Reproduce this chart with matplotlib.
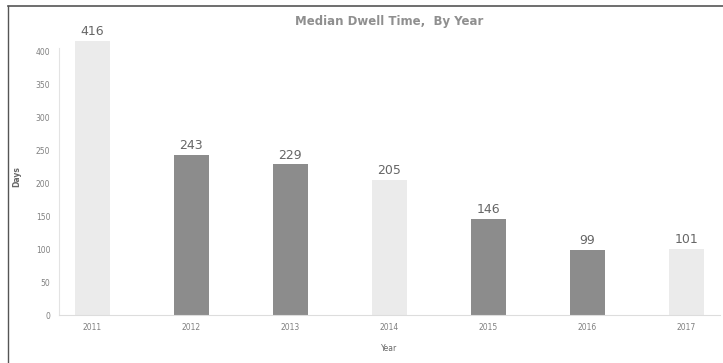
import matplotlib.pyplot as plt
from matplotlib.lines import Line2D

years = ["2011", "2012", "2013", "2014", "2015", "2016", "2017"]
days = [416, 243, 229, 205, 146, 99, 101]
colors = ["#ebebeb", "#8c8c8c", "#8c8c8c", "#ebebeb", "#8c8c8c", "#8c8c8c", "#ebebeb"]

fig = plt.figure(figsize=(7.23, 3.63), dpi=100)
ax = fig.add_axes([0.081, 0.132, 0.915, 0.762])

x = range(len(years))
bars = ax.bar(x, days, width=0.35, color=colors)
for xi, v in zip(x, days):
    ax.text(xi, v + 4, str(v), ha="center", va="bottom", fontsize=9, color="#666666")

ax.set_xlim(-0.34, 6.34)
ax.set_ylim(0, 420)
ax.set_yticks(range(0, 401, 50))
ax.set_xticks(list(x))
ax.set_xticklabels(years)
ax.tick_params(axis="both", length=0, labelsize=5.5, colors="#808080")
ax.tick_params(axis="y", pad=6)
ax.tick_params(axis="x", pad=6)

for s in ["top", "right"]:
    ax.spines[s].set_visible(False)
ax.spines["left"].set_color("#e3e3e3")
ax.spines["bottom"].set_color("#dddddd")
ax.spines["left"].set_bounds(0, 405)

ax.set_xlabel("Year", fontsize=5.5, color="#666666", labelpad=8)
ax.set_ylabel("Days", fontsize=5.5, color="#666666", labelpad=10, fontweight="bold")
ax.set_title("Median Dwell Time,  By Year", fontsize=8.5, fontweight="bold", color="#8f8f8f", pad=10)

# scanned page frame
fig.add_artist(Line2D([8 / 723, 1], [1 - 6 / 363, 1 - 6 / 363], color="#555555", lw=1.2))
fig.add_artist(Line2D([8 / 723, 8 / 723], [0, 1 - 6 / 363], color="#555555", lw=1.0))

fig.savefig("out.png", dpi=100)
